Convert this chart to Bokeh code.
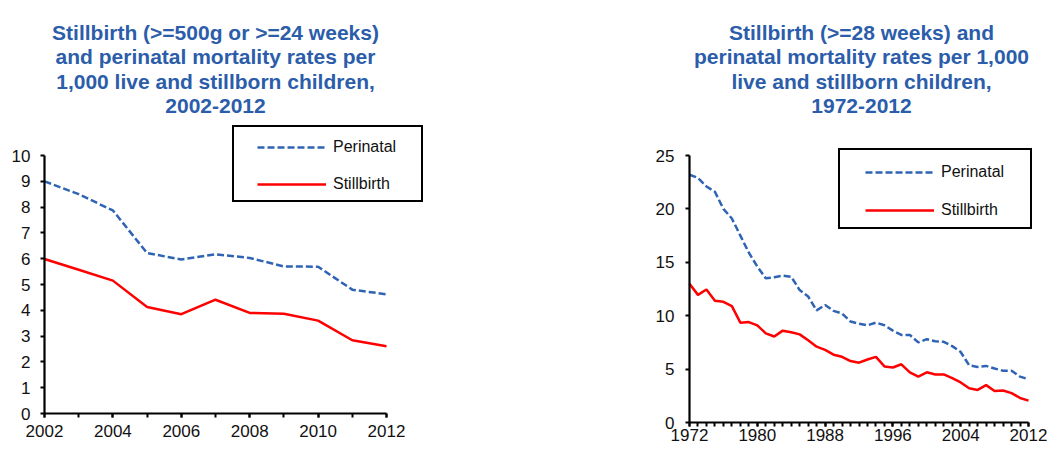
from bokeh.plotting import figure
from bokeh.models import Range1d, FixedTicker, Legend, LegendItem, Label
from bokeh.layouts import row
from bokeh.embed import file_html
from bokeh.resources import INLINE

# ---------------- data ----------------
years_a = list(range(2002, 2013))
perinatal_a = [9.0, 8.5, 7.87, 6.22, 5.97, 6.17, 6.03, 5.70, 5.69, 4.80, 4.62]
stillbirth_a = [5.99, 5.57, 5.15, 4.13, 3.85, 4.41, 3.90, 3.87, 3.60, 2.84, 2.61]

years_b = list(range(1972, 2013))
perinatal_b = [23.2, 22.9, 22.1, 21.6, 20.0, 19.1, 17.5, 15.9, 14.6, 13.5,
               13.6, 13.75, 13.65, 12.4, 11.8, 10.5, 11.0, 10.45, 10.2, 9.45,
               9.25, 9.1, 9.35, 9.1, 8.6, 8.2, 8.2, 7.5, 7.8, 7.6,
               7.55, 7.15, 6.6, 5.35, 5.2, 5.3, 5.05, 4.85, 4.85, 4.3,
               4.05]
stillbirth_b = [13.0, 11.95, 12.45, 11.4, 11.3, 10.9, 9.35, 9.4, 9.1, 8.35,
                8.05, 8.6, 8.45, 8.25, 7.7, 7.1, 6.8, 6.35, 6.15, 5.75,
                5.6, 5.9, 6.15, 5.25, 5.15, 5.45, 4.7, 4.3, 4.7, 4.5,
                4.5, 4.15, 3.75, 3.2, 3.05, 3.5, 2.95, 3.0, 2.75, 2.3,
                2.05]

title_a = ["Stillbirth (>=500g or >=24 weeks)",
           "and perinatal mortality rates per",
           "1,000 live and stillborn children,",
           "2002-2012"]
title_b = ["Stillbirth (>=28 weeks) and",
           "perinatal mortality rates per 1,000",
           "live and stillborn children,",
           "1972-2012"]
series_names = ["Perinatal", "Stillbirth"]
x_ticks_a = list(range(2002, 2013, 2))
x_ticks_b = list(range(1972, 2013, 8))
y_ticks_a = list(range(0, 11))
y_ticks_b = list(range(0, 26, 5))

# ---------------- style ----------------
FONT = "Liberation Sans"
TITLE_COLOR = "#2B5DAA"
BLUE = "#2F64B5"
RED = "#FF0000"
H = 450


def span(v0, v1, p0, p1, total):
    """data range so that value v0 sits at pixel p0 and v1 at p1 over 'total' pixels"""
    s = (p1 - p0) / (v1 - v0)
    return (v0 - p0 / s, v0 + (total - p0) / s)


def make_fig(width, xdata, xpix, ydata, ypix, xtick_standoff, ytick_standoff):
    xr = span(xdata[0], xdata[1], xpix[0], xpix[1], width)
    yr = span(ydata[0], ydata[1], ypix[0], ypix[1], H)
    p = figure(width=width, height=H, output_backend="svg",
               toolbar_location=None, x_range=Range1d(*xr), y_range=Range1d(*yr),
               min_border_left=0, min_border_right=0,
               min_border_top=0, min_border_bottom=0)
    p.title = None
    p.outline_line_color = None
    p.xgrid.visible = False
    p.ygrid.visible = False
    p.background_fill_color = "white"
    p.border_fill_color = "white"
    xa, ya = p.xaxis[0], p.yaxis[0]
    xa.fixed_location = ydata[0]
    ya.fixed_location = xdata[0]
    xa.bounds = (xdata[0], xdata[1])
    ya.bounds = (ydata[0], ydata[1])
    for ax in (xa, ya):
        ax.axis_line_color = "black"
        ax.axis_line_width = 2.2
        ax.major_tick_line_color = "black"
        ax.major_tick_line_width = 2
        ax.major_tick_in = 0
        ax.major_tick_out = 4
        ax.minor_tick_line_color = "black"
        ax.minor_tick_line_width = 2
        ax.minor_tick_in = 0
        ax.minor_tick_out = 4
        ax.major_label_text_font = FONT
        ax.major_label_text_font_size = "17px"
        ax.major_label_text_color = "#111111"
    ya.minor_tick_line_color = None
    xa.major_label_standoff = xtick_standoff
    ya.major_label_standoff = ytick_standoff
    return p


def add_titles(p, lines, cx, baselines):
    for t, b in zip(lines, baselines):
        p.add_layout(Label(x=cx, y=H - b, x_units="screen", y_units="screen",
                           text=t, text_align="center", text_baseline="alphabetic",
                           text_font=FONT, text_font_size="21px",
                           text_font_style="bold", text_color=TITLE_COLOR))


def add_legend(p, r_per, r_still, box_loc, box_size, item_loc, spacing):
    dummy = p.line(x=[p.x_range.start] * 2, y=[0, 0], line_alpha=0)
    box = Legend(items=[LegendItem(label="", renderers=[dummy])],
                 location=box_loc, padding=0, margin=0, spacing=0,
                 glyph_width=box_size[0], glyph_height=box_size[1],
                 label_standoff=0, label_width=0, label_height=0,
                 label_text_font_size="1px",
                 border_line_color="black", border_line_alpha=1,
                 border_line_width=2.5,
                 background_fill_color="white", background_fill_alpha=1)
    p.add_layout(box, "center")
    leg = Legend(items=[LegendItem(label=series_names[0], renderers=[r_per]),
                        LegendItem(label=series_names[1], renderers=[r_still])],
                 location=item_loc, padding=0, margin=0, spacing=spacing,
                 glyph_width=69, glyph_height=20, label_height=20,
                 label_standoff=7, label_text_font=FONT,
                 label_text_font_size="16px", label_text_color="#111111",
                 border_line_alpha=0, background_fill_alpha=0)
    p.add_layout(leg, "center")


# ---------------- left chart ----------------
WA = 528
pa = make_fig(WA, (2002, 2012), (44, 386), (0, 10), (H - 413, H - 155), 7, 10)
pa.xaxis[0].ticker = FixedTicker(ticks=x_ticks_a, minor_ticks=years_a)
pa.yaxis[0].ticker = FixedTicker(ticks=y_ticks_a)
ra1 = pa.line(years_a, perinatal_a, line_color=BLUE, line_width=2.5, line_dash="7 3")
ra2 = pa.line(years_a, stillbirth_a, line_color=RED, line_width=2.5)
add_titles(pa, title_a, 215, [31.5, 56, 80.5, 105])
add_legend(pa, ra1, ra2, (232, H - 202), (187, 73), (257, H - 194), 17)

# ---------------- right chart ----------------
WB = 520
pb = make_fig(WB, (1972, 2012), (689 - WA, 1028 - WA), (0, 25), (H - 422, H - 155), 2, 11)
pb.xaxis[0].ticker = FixedTicker(ticks=x_ticks_b, minor_ticks=years_b)
pb.yaxis[0].ticker = FixedTicker(ticks=y_ticks_b)
rb1 = pb.line(years_b, perinatal_b, line_color=BLUE, line_width=2.5, line_dash="7 3")
rb2 = pb.line(years_b, stillbirth_b, line_color=RED, line_width=2.5)
add_titles(pb, title_b, 861 - WA, [31.5, 56, 80.5, 105])
add_legend(pb, rb1, rb2, (838 - WA, H - 229), (190, 77), (865 - WA, H - 220), 18)

layout = row(pa, pb)
open("out.html", "w").write(file_html(layout, INLINE))
